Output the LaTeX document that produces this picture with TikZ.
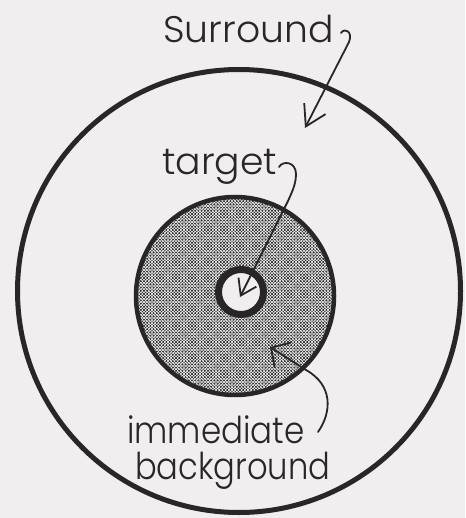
\documentclass[tikz,border=0pt]{standalone}
\usepackage{fontspec}
\setmainfont{Poppins}[UprightFont=* Light]
\usetikzlibrary{arrows.meta,patterns}
\definecolor{bg}{RGB}{240,238,238}
\definecolor{ink}{RGB}{40,38,38}
\pgfdeclarepatternformonly{stipple}{\pgfqpoint{-1pt}{-1pt}}{\pgfqpoint{4.2pt}{4.2pt}}{\pgfqpoint{3.2pt}{3.2pt}}{%
  \pgfpathcircle{\pgfqpoint{0pt}{0pt}}{0.8pt}%
  \pgfpathcircle{\pgfqpoint{1.6pt}{1.6pt}}{0.8pt}%
  \pgfpathcircle{\pgfqpoint{3.2pt}{0pt}}{0.8pt}%
  \pgfpathcircle{\pgfqpoint{0pt}{3.2pt}}{0.8pt}%
  \pgfpathcircle{\pgfqpoint{3.2pt}{3.2pt}}{0.8pt}%
  \pgfusepath{fill}}
\begin{document}
\begin{tikzpicture}[x=1pt,y=-1pt,
  lbl/.style={anchor=base west,inner sep=0pt,text=ink,font=\fontsize{37}{40}\selectfont},
  ring/.style={circle,draw=ink,inner sep=0pt},
  ptr/.style={draw=ink,line width=1.8pt,line cap=round,line join=round}]
\fill[bg] (0,0) rectangle (465,518);
\useasboundingbox (0,0) rectangle (465,518);
% circles
\node[ring,line width=5pt,minimum size=443pt] (outer) at (239,291) {};
\node[ring,line width=4.5pt,minimum size=198pt,
  preaction={fill=black!8},pattern=stipple,pattern color=black!80] (mid) at (235,296) {};
\node[ring,line width=7pt,minimum size=45pt,fill=bg] (inner) at (241,292) {};
% labels
\node[lbl] (sur) at (163,43) {\scalebox{1.02}[1]{Surround}};
\node[lbl] (tgt) at (162,175) {\scalebox{1.02}[1]{target}};
\node[lbl] (imm) at (127,443) {\scalebox{0.88}[1]{immediate}};
\node[lbl] (bkg) at (135,479) {\scalebox{0.87}[1]{background}};
% pointer ends
\coordinate (surTail) at (341,33);
\coordinate (surTip) at (305,128);
\coordinate (tgtTail) at (279,167);
\coordinate (tgtTip) at (240,297);
\coordinate (immTail) at (318,432);
\coordinate (immTip) at (270,347);
% pointers
\draw[ptr,-{Straight Barb[length=20pt,width=24pt]}] (surTail) .. controls (345,27) and (353,32) .. (349,42) -- (surTip);
\draw[ptr,-{Straight Barb[length=15pt,width=20pt]}] (tgtTail) .. controls (283,160) and (296,162) .. (296,174) .. controls (296,185) and (291,194) .. (288,201) -- (tgtTip);
\draw[ptr,-{Straight Barb[length=14pt,width=30pt]}] (immTail) .. controls (332,412) and (333,385) .. (306,370) -- (immTip);
\end{tikzpicture}
\end{document}
